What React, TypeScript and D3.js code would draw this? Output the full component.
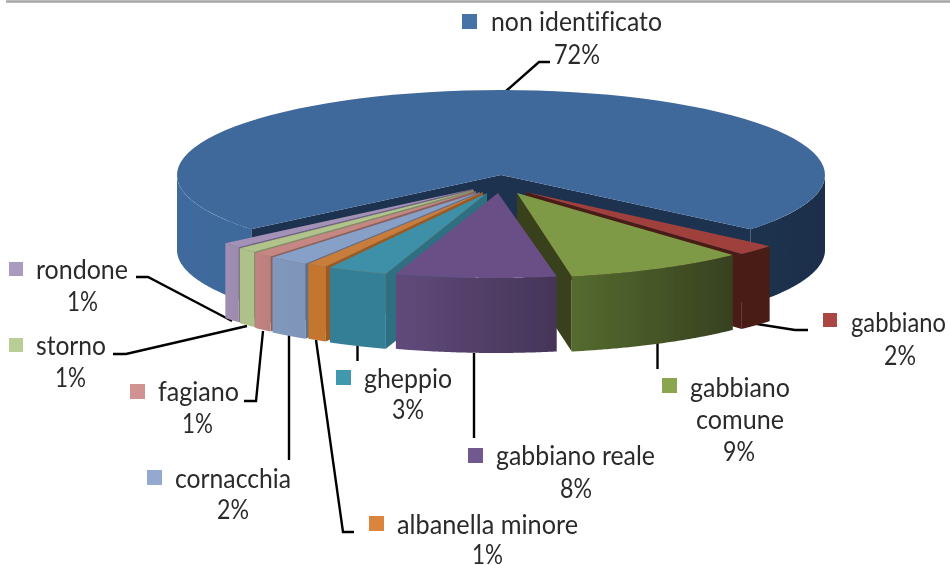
import React from "react";
import * as d3 from "d3";

// ---- data ----
const categories = ["non identificato", "gabbiano", "gabbiano comune", "gabbiano reale", "gheppio", "albanella minore", "cornacchia", "fagiano", "storno", "rondone"];
const values = [72, 2, 9, 8, 3, 1, 2, 1, 1, 1];

// ---- styles ----
const topColors = ["#41699b", "#a0413e", "#7f9a47", "#6b4f87", "#3d90a8", "#c97d3a", "#87a0c8", "#c58684", "#b0c38b", "#a491b7"];
const keyColors = ["#4572a7", "#aa4643", "#89a54e", "#71588f", "#4198af", "#db843d", "#93a9cf", "#d19392", "#b9cd96", "#a99bbd"];
const wallColors = ["#1b3150", "#4a1c19", "#37411e", "#45345a", "#2e7082", "#9a5a22", "#5d6f8d", "#8d5f5e", "#7f8d63", "#74667f"];
const sideLeft = ["#3f6a9d", "#4a1c19", "#556b2f", "#614a7b", "#367f96", "#c4752f", "#8098bd", "#c08382", "#aec18a", "#a08fb3"];
const sideRight = ["#1a2f4b", "#4a1c19", "#37411f", "#453558", "#367f96", "#c4752f", "#7e95b8", "#bb7f7e", "#aec18a", "#9c8aad"];

// ---- layout ----
const W = 950, H = 565;
const CX = 501, CY = 175, RX = 324, RY = 85, DEPTH = 75;
const apexOffsets: [number, number][] = [[0, 0], [25, 17], [16, 18], [-3, 18], [-14, 18], [-18, 17], [-21, 17], [-25, 16], [-27, 15], [-28, 14]];
const rimOffsets: [number, number][] = [[0, 0], [19, 17], [10, 18], [-5, 18], [-15, 18], [-19, 17], [-22, 17], [-24, 16], [-25, 15], [-26, 14]];
const drawOrder = [0, 1, 2, 9, 8, 7, 6, 5, 4, 3];
const rad = (d: number) => (d * Math.PI) / 180;

type Label = { key: [number, number, number]; lines: [string, number, number, number][] };
// key: x, y, size; lines: text, left x, baseline, width
const labels: Label[] = [
  { key: [462, 14, 15], lines: [["non identificato", 491, 31, 171], ["72%", 554, 64, 46]] },
  { key: [823, 313, 14], lines: [["gabbiano", 851, 332, 95], ["2%", 884, 365, 32]] },
  { key: [662, 378, 15], lines: [["gabbiano", 690, 397, 100], ["comune", 696, 429, 88], ["9%", 723, 461, 32]] },
  { key: [468, 448, 15], lines: [["gabbiano reale", 496, 465, 159], ["8%", 560, 498, 32]] },
  { key: [336, 370, 15], lines: [["gheppio", 364, 388, 88], ["3%", 392, 419, 32]] },
  { key: [369, 516, 15], lines: [["albanella minore", 397, 534, 181], ["1%", 472, 564, 31]] },
  { key: [147, 470, 15], lines: [["cornacchia", 175, 488, 116], ["2%", 217, 519, 32]] },
  { key: [130, 384, 15], lines: [["fagiano", 158, 401, 81], ["1%", 182, 433, 31]] },
  { key: [9, 338, 14], lines: [["storno", 36, 355, 70], ["1%", 55, 387, 31]] },
  { key: [9, 262, 14], lines: [["rondone", 36, 279, 92], ["1%", 67, 311, 31]] },
];

const leaders: [number, number][][] = [
  [[506, 91], [539, 62], [550, 62]],
  [[757, 324], [795, 330], [808, 330]],
  [[657.5, 343], [657.5, 369]],
  [[474, 353], [474, 438]],
  [[357.5, 344], [357.5, 361]],
  [[316, 340], [343, 532], [354, 532]],
  [[289, 335], [289, 460]],
  [[263, 331], [256, 401], [244, 401]],
  [[247, 326], [126, 354], [113, 354]],
  [[232, 321], [148, 277], [136, 277]],
];

const START = -129.6;
const pie = d3.pie<number>().sort(null).startAngle(rad(START)).endAngle(rad(START + 360));
const arcs = pie(values);

const line = d3.line();
const pt = (a: number, cx: number, cy: number): [number, number] => [cx + RX * Math.sin(a), cy - RY * Math.cos(a)];
const rim = (a0: number, a1: number, cx: number, cy: number) =>
  d3.range(0, 81).map((i) => pt(a0 + ((a1 - a0) * i) / 80, cx, cy));

function sidePath(a0: number, a1: number, cx: number, cy: number) {
  const r = rim(a0, a1, cx, cy);
  const low = r.map(([x, y]) => [x, y + DEPTH] as [number, number]).reverse();
  return line([...r, ...low]) + "Z";
}

function Slice({ i }: { i: number }) {
  const a0 = arcs[i].startAngle, a1 = arcs[i].endAngle;
  const ax = CX + apexOffsets[i][0], ay = CY + apexOffsets[i][1];
  const cx = CX + rimOffsets[i][0], cy = CY + rimOffsets[i][1];
  const isMain = i === 0;
  const walls: number[] = isMain
    ? [a0, a1]
    : [...(a0 > Math.PI ? [a0] : []), ...(a1 < Math.PI ? [a1] : [])];
  const fronts: [number, number][] = isMain
    ? [[a0, -Math.PI / 2], [Math.PI / 2, a1]]
    : [[a0, a1]];
  return (
    <g>
      {walls.map((a, k) => {
        const p = pt(a, cx, cy);
        return <path key={k} d={line([[ax, ay], p, [p[0], p[1] + DEPTH], [ax, ay + DEPTH]]) + "Z"} fill={wallColors[i]} />;
      })}
      {fronts.map(([s, e], k) => (
        <path key={k} d={sidePath(s, e, cx, cy)} fill={`url(#side${i})`} />
      ))}
      <path d={line([[ax, ay], ...rim(a0, a1, cx, cy)]) + "Z"} fill={topColors[i]} />
    </g>
  );
}

function gradExtent(i: number): [number, number] {
  if (i === 0) return [CX - RX, CX + RX];
  const xs = [arcs[i].startAngle, arcs[i].endAngle].map((a) => pt(a, CX + rimOffsets[i][0], CY)[0]);
  return [Math.min(...xs), Math.max(...xs)];
}

export default function App() {
  return (
    <svg width={W} height={H} viewBox={`0 0 ${W} ${H}`} style={{ position: "absolute", left: 0, top: 0, display: "block", background: "#fff" }}>
      <defs>
        <filter id="soft" x="-5%" y="-5%" width="110%" height="110%">
          <feGaussianBlur stdDeviation="0.45" />
        </filter>
        {values.map((_, i) => {
          const [x1, x2] = gradExtent(i);
          return (
            <linearGradient key={i} id={`side${i}`} gradientUnits="userSpaceOnUse" x1={x1} x2={x2} y1={0} y2={0}>
              <stop offset="0" stopColor={sideLeft[i]} />
              {i === 0 && <stop offset="0.2" stopColor="#3d6799" />}
              {i === 0 && <stop offset="0.7" stopColor="#1c3351" />}
              <stop offset="1" stopColor={sideRight[i]} />
            </linearGradient>
          );
        })}
      </defs>
      <line x1={6} x2={W} y1={1.5} y2={1.5} stroke="#a6a6a6" strokeWidth={2.5} />
      <g filter="url(#soft)">
        {leaders.map((l, i) => (
          <path key={i} d={line(l) || ""} fill="none" stroke="#000" strokeWidth={2.4} />
        ))}
        {drawOrder.map((i) => (
          <Slice key={i} i={i} />
        ))}
        {labels.map((lab, i) => (
          <g key={categories[i]}>
            <rect x={lab.key[0]} y={lab.key[1]} width={lab.key[2]} height={lab.key[2]} fill={keyColors[i]} />
            {lab.lines.map(([t, x, y, w], k) => (
              <text key={k} x={x} y={y} textLength={w} lengthAdjust="spacingAndGlyphs" fontFamily="Lato, 'Open Sans', sans-serif" fontSize={26} fill="#2b2b2b" style={{ fontVariantLigatures: "none" }}>
                {t}
              </text>
            ))}
          </g>
        ))}
      </g>
    </svg>
  );
}
